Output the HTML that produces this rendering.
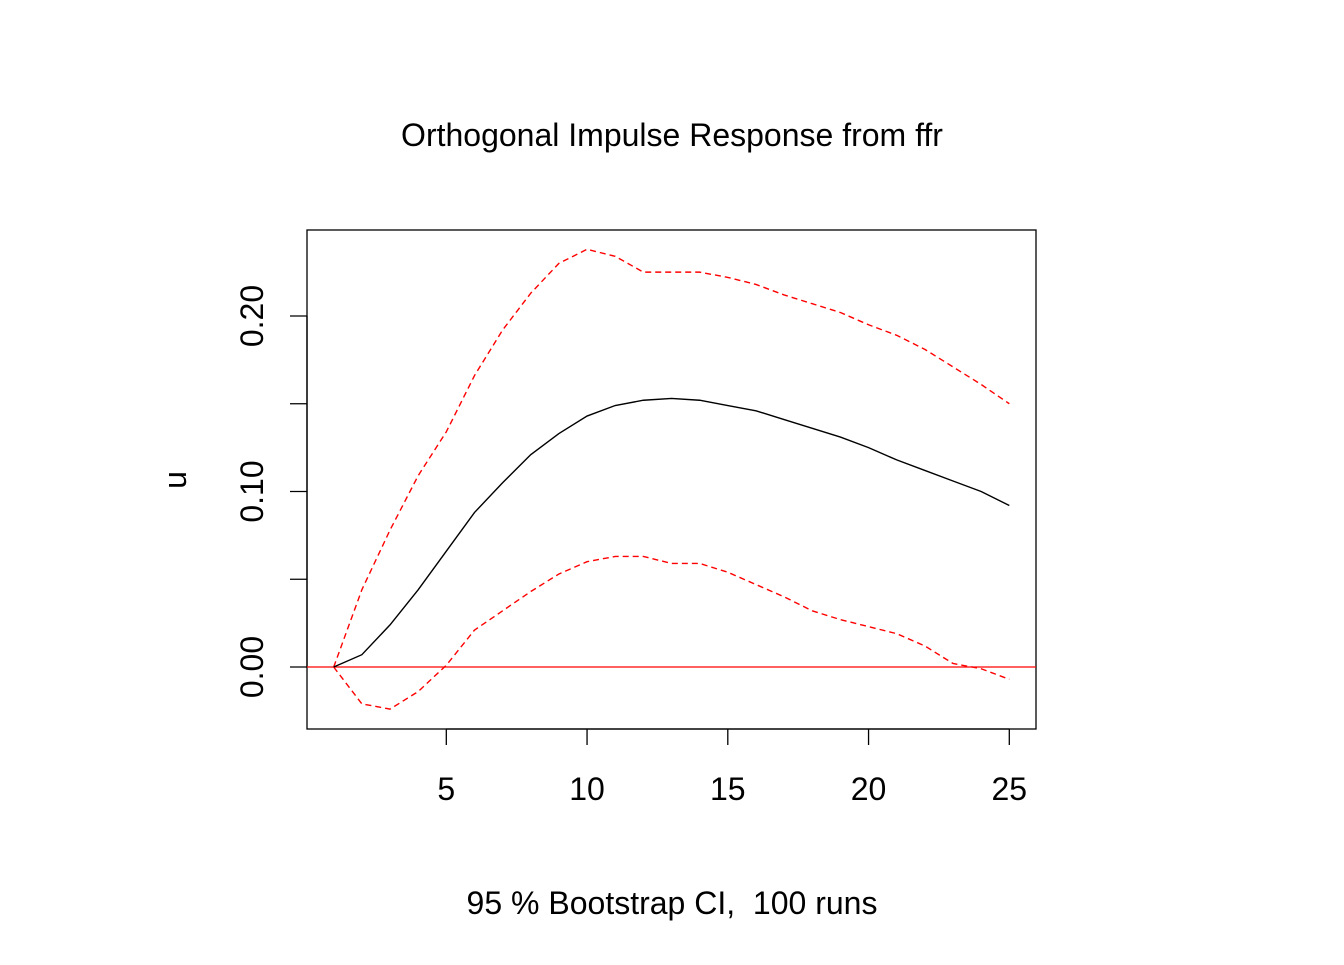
<!DOCTYPE html>
<html><head><meta charset="utf-8"><style>
html,body{margin:0;padding:0;background:#fff}
svg text{font-family:"Liberation Sans",Arial,sans-serif;fill:#000}
</style></head><body>
<svg width="1344" height="960" xmlns="http://www.w3.org/2000/svg">
<text x="672" y="146" font-size="32" text-anchor="middle">Orthogonal Impulse Response from ffr</text>
<text x="672" y="914" font-size="32" text-anchor="middle" xml:space="preserve" style="white-space:pre">95 % Bootstrap CI,  100 runs</text>
<text transform="translate(186,480) rotate(-90)" font-size="32" text-anchor="middle">u</text>
<rect x="307" y="230" width="729" height="499" fill="none" stroke="#000" stroke-width="1.3"/>
<g id="xaxis"></g>
<g id="yaxis"></g>
<g id="marks"></g>
</svg>
<script>
const steps = [1,2,3,4,5,6,7,8,9,10,11,12,13,14,15,16,17,18,19,20,21,22,23,24,25];
const irf = [0,0.007,0.024,0.044,0.066,0.088,0.105,0.121,0.133,0.143,0.149,0.152,0.153,0.152,0.149,0.146,0.141,0.136,0.131,0.125,0.118,0.112,0.106,0.100,0.092];
const upper = [0,0.044,0.078,0.109,0.134,0.166,0.192,0.213,0.230,0.238,0.234,0.225,0.225,0.225,0.222,0.218,0.212,0.207,0.202,0.195,0.189,0.181,0.171,0.161,0.150];
const lower = [0,-0.021,-0.024,-0.014,0.001,0.021,0.032,0.043,0.053,0.060,0.063,0.063,0.059,0.059,0.054,0.047,0.040,0.032,0.027,0.023,0.019,0.012,0.002,-0.001,-0.007];
const xTicks = [5,10,15,20,25];
const yTicks = [0,0.05,0.10,0.15,0.20];
const yLabels = ["0.00","","0.10","","0.20"];

const NS="http://www.w3.org/2000/svg";
const xs = v => 333.7 + (v-1)*28.15;
const ys = v => 667 - v*1755;
function mk(tag, attrs, parent){const e=document.createElementNS(NS,tag);for(const k in attrs)e.setAttribute(k,attrs[k]);parent.appendChild(e);return e;}
const xa=document.getElementById('xaxis'), ya=document.getElementById('yaxis'), m=document.getElementById('marks');
mk('line',{x1:xs(xTicks[0]),x2:xs(xTicks[xTicks.length-1]),y1:729,y2:729,stroke:'#000','stroke-width':1.3},xa);
xTicks.forEach(t=>{
  const l=mk('line',{x1:xs(t),x2:xs(t),y1:729,y2:745,stroke:'#000','stroke-width':1.3},xa);
  
  
  const tx=mk('text',{x:xs(t),y:800,'font-size':32,'text-anchor':'middle'},xa);tx.textContent=t;
  
  
});
mk('line',{x1:307,x2:307,y1:ys(yTicks[0]),y2:ys(yTicks[yTicks.length-1]),stroke:'#000','stroke-width':1.3},ya);
yTicks.forEach((t,i)=>{
  const l=mk('line',{x1:290,x2:307,y1:ys(t),y2:ys(t),stroke:'#000','stroke-width':1.3},ya);
  
  
  if(yLabels[i]){const tx=mk('text',{transform:`translate(263,${ys(t)}) rotate(-90)`,'font-size':32,'text-anchor':'middle'},ya);tx.textContent=yLabels[i];
  
  }
});
const zl=mk('line',{x1:307,x2:1036,y1:ys(0),y2:ys(0),stroke:'#ff0000','stroke-width':1.3},m);


function pts(arr){return steps.map((s,i)=>xs(s)+','+ys(arr[i])).join(' ');}
const pu=mk('polyline',{points:pts(upper),fill:'none',stroke:'#ff0000','stroke-width':1.4,'stroke-dasharray':'6,4'},m);


const pl=mk('polyline',{points:pts(lower),fill:'none',stroke:'#ff0000','stroke-width':1.4,'stroke-dasharray':'6,4'},m);


const pi=mk('polyline',{points:pts(irf),fill:'none',stroke:'#000','stroke-width':1.4},m);


</script>
</body></html>
